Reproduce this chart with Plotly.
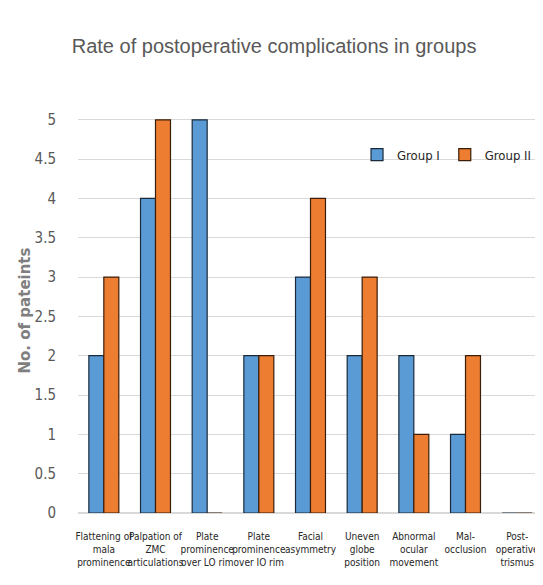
import plotly.graph_objects as go

categories = [
    "Flattening of<br>mala<br>prominence",
    "Palpation of<br>ZMC<br>articulations",
    "Plate<br>prominence<br>over LO rim",
    "Plate<br>prominence<br>over IO rim",
    "Facial<br>asymmetry",
    "Uneven<br>globe<br>position",
    "Abnormal<br>ocular<br>movement",
    "Mal-<br>occlusion",
    "Post-<br>operative<br>trismus",
]
group1 = [2, 4, 5, 2, 3, 2, 2, 1, 0]
group2 = [3, 5, 0, 2, 4, 3, 1, 2, 0]
y_ticks = [0, 0.5, 1, 1.5, 2, 2.5, 3, 3.5, 4, 4.5, 5]
y_tick_labels = ["0", "0.5", "1", "1.5", "2", "2.5", "3", "3.5", "4", "4.5", "5"]

cond = "DejaVu Sans Condensed, Liberation Sans Narrow, Arial Narrow, sans-serif"

fig = go.Figure()
fig.add_trace(go.Bar(
    x=categories, y=group1, name="Group I",
    marker=dict(color="#5B9BD5", line=dict(color="#1a2a3a", width=1.2)),
))
fig.add_trace(go.Bar(
    x=categories, y=group2, name="Group II",
    marker=dict(color="#ED7D31", line=dict(color="#3a1e0a", width=1.2)),
))

fig.update_layout(
    width=543, height=585,
    margin=dict(l=70, r=8, t=100, b=80),
    paper_bgcolor="white", plot_bgcolor="white",
    barmode="group", bargap=0.42, bargroupgap=0.0,
    title=dict(
        text="Rate of postoperative complications in groups",
        x=0.49, xanchor="center", xref="container", y=0.935, yanchor="middle",
        font=dict(family="Liberation Sans, sans-serif", size=20, color="#595959"),
    ),
    legend=dict(
        orientation="h", x=0.985, xanchor="right", y=0.885, yanchor="middle",
        bgcolor="rgba(0,0,0,0)",
        font=dict(family=cond, size=13, color="#262626"),
        itemwidth=30, traceorder="normal",
    ),
    showlegend=True,
)
fig.update_xaxes(
    showgrid=False, showline=False, zeroline=False,
    ticks="outside", ticklen=14, tickcolor="rgba(0,0,0,0)",
    tickangle=0,
    tickfont=dict(family=cond, size=10, color="#262626"),
)
fig.update_yaxes(
    range=[0, 5.15],
    tickvals=y_ticks, ticktext=y_tick_labels,
    showgrid=True, gridcolor="#d9d9d9", gridwidth=1,
    zeroline=True, zerolinecolor="#d9d9d9",
    showline=False,
    ticks="outside", ticklen=18, tickcolor="rgba(0,0,0,0)",
    tickfont=dict(family=cond, size=15, color="#595959"),
    title=dict(
        text="<b>No. of pateints</b>", standoff=0,
        font=dict(family="DejaVu Sans, Verdana, sans-serif", size=15, color="#7f7f7f"),
    ),
)

fig.write_html("out.html")
